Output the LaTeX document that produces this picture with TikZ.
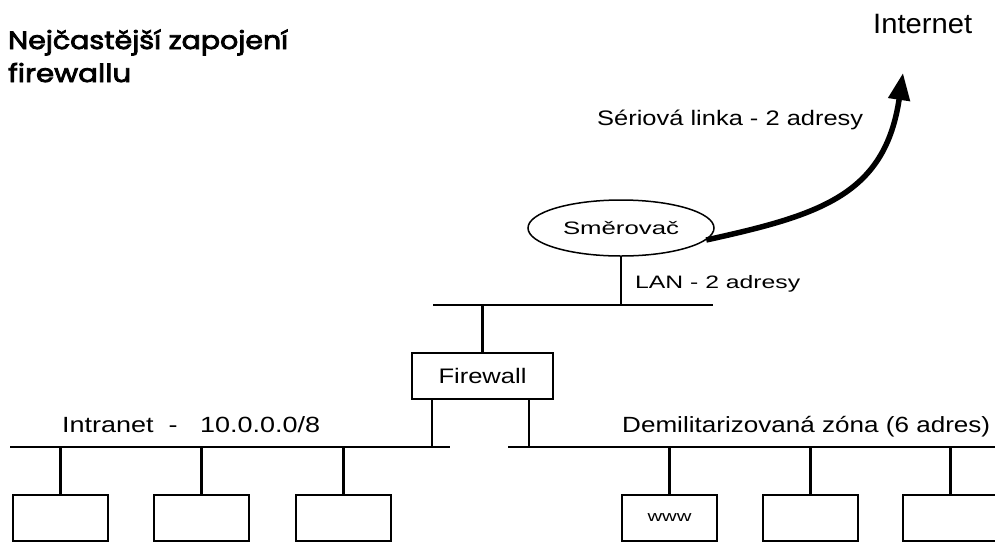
\documentclass[tikz,border=0pt]{standalone}
\usepackage{fontspec}
\setmainfont{Liberation Sans}
\newfontfamily\titlefont{Poppins}[FakeBold=3]
\usetikzlibrary{shapes.geometric,arrows.meta}
\newcommand{\fitw}[2]{\resizebox{#1pt}{\height}{#2}}
\begin{document}
\begin{tikzpicture}[x=1pt,y=-1pt,
  lbl/.style={inner sep=0pt,anchor=base west},
  bus/.style={line width=2.2pt},
  hostbox/.style={draw,line width=2pt,minimum width=95pt,minimum height=46pt,inner sep=0pt,anchor=north west,font=\fontsize{15}{17}\selectfont},
  ttl/.style={lbl,font=\titlefont\fontsize{25}{28}\selectfont},
]
\useasboundingbox (0,0) rectangle (995,542);

% title
\node[ttl] (t1) at (8,49) {\fitw{280}{Nejčastější zapojení}};
\node[ttl] (t2) at (8,82) {\fitw{123}{firewallu}};

% internet + router
\node[lbl,font=\fontsize{28}{32}\selectfont] (inet) at (873,33) {\fitw{99}{Internet}};
\coordinate (tip) at (903,73);
\node[lbl,font=\fontsize{21}{24}\selectfont] (serial) at (597,125) {\fitw{266}{Sériová linka - 2 adresy}};
\node[ellipse,draw,line width=1.5pt,minimum width=186pt,minimum height=56pt,inner sep=0pt,
      font=\fontsize{18}{20}\selectfont] (router) at (621,228) {\fitw{116}{Směrovač}};
\draw[line width=5.5pt,-{Triangle[length=27pt,width=21pt]}]
  (router.-8) .. controls (820,215) and (885,195) .. (tip);

% LAN
\coordinate (lanL) at (433,305);
\coordinate (lanR) at (713,305);
\draw[bus] (lanL) -- (lanR);
\draw[bus] (router.south) -- (router.south |- lanL);
\node[lbl,font=\fontsize{18}{20}\selectfont] (lan) at (635,288) {\fitw{165}{LAN - 2 adresy}};

% firewall
\node[draw,line width=2pt,minimum width=141pt,minimum height=46pt,inner sep=0pt,
      font=\fontsize{21}{24}\selectfont] (fw) at (482.5,376) {\fitw{88}{Firewall}};
\draw[bus] (fw.north) -- (fw.north |- lanL);

% intranet + DMZ buses
\coordinate (intraL) at (10,447);
\coordinate (intraR) at (450,447);
\coordinate (dmzL) at (508,447);
\coordinate (dmzR) at (998,447);
\draw[bus] (intraL) -- (intraR);
\draw[bus] (dmzL) -- (dmzR);
\draw[bus] ([xshift=21pt]fw.south west) -- ([xshift=21pt]fw.south west |- intraL);
\draw[bus] ([xshift=-25pt]fw.south east) -- ([xshift=-25pt]fw.south east |- dmzL);

\node[lbl,font=\fontsize{22}{25}\selectfont] (intra) at (62,432) {\fitw{258}{Intranet\ \ -\ \ \ 10.0.0.0/8}};
\node[lbl,font=\fontsize{22}{25}\selectfont] (dmz) at (622,432) {\fitw{368}{Demilitarizovaná zóna (6 adres)}};

% hosts
\node[hostbox] (h1) at (12,494) {};
\node[hostbox] (h2) at (153,494) {};
\node[hostbox] (h3) at (295,494) {};
\node[hostbox] (d1) at (621,494) {\fitw{44}{www}};
\node[hostbox] (d2) at (762,494) {};
\node[hostbox] (d3) at (902,494) {};
\foreach \h in {h1,h2,h3}{\draw[bus] (\h.north) -- (\h.north |- intraL);}
\foreach \h in {d1,d2,d3}{\draw[bus] (\h.north) -- (\h.north |- dmzL);}
\end{tikzpicture}
\end{document}
